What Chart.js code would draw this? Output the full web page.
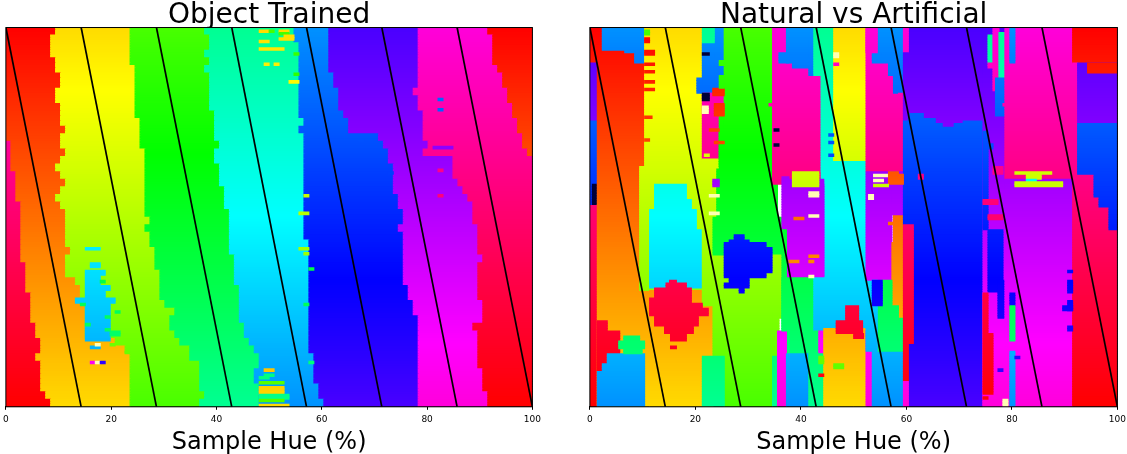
<!DOCTYPE html>
<html>
<head>
<meta charset="utf-8">
<style>
  html, body { margin: 0; background: #fff; overflow: hidden; }
  #wrap { position: relative; width: 1127px; height: 454px; overflow: hidden; }
  .box { position: absolute; top: 0; height: 454px; }
  #box1 { left: -1px; width: 546px; }
  #box2 { left: 583px; width: 547px; }
</style>
</head>
<body>
<div id="wrap">
  <div class="box" id="box1"><canvas id="chart1"></canvas></div>
  <div class="box" id="box2"><canvas id="chart2"></canvas></div>
</div>
<script src="https://cdn.jsdelivr.net/npm/chart.js@4"></script>
<script>
const panelTitles = ['Object Trained', 'Natural vs Artificial'];
const xTitle = 'Sample Hue (%)';
const xTicks = [0, 20, 40, 60, 80, 100];
const rowCount = 150;
const colCount = 106;
const blockRows = 3;
// black guide lines, sample hue % at the top and the bottom of the plot
const lineTops = [0, 14.3, 28.6, 42.9, 57.1, 71.4, 85.7];
const lineBottoms = [14.3, 28.6, 42.9, 57.1, 71.4, 85.7, 100];

// left panel: where each class ends in a row block (column number, one value per 3 rows)
const wedgeEnd = [0,0,0,0,0,0,0,0,0,0,0,0,0,0,0,1,1,1,1,2,2,2,2,3,3,3,3,3,3,3,3,4,4,4,4,5,5,5,5,6,6,7,7,6,7,7,7,7,8,9];
const class0End = [10,9,9,9,10,10,11,11,10,10,11,11,11,12,11,11,12,11,10,11,12,11,10,11,12,12,12,12,12,13,12,12,12,14,15,15,16,16,16,16,16,22,24,25,25,25,25,25,25,25];
const class1End = [25,25,25,25,25,26,26,26,26,26,26,26,27,27,27,27,28,28,28,28,28,28,28,28,28,29,28,29,29,30,30,30,31,31,31,31,32,34,33,33,34,35,37,37,39,39,39,39,40,39];
const class2End = [40,41,41,40,41,40,41,41,41,41,41,42,42,42,42,43,42,42,43,43,43,44,44,44,45,45,45,45,45,45,46,46,46,46,47,47,47,47,47,48,48,49,50,51,51,50,50,51,51,51];
const class3End = [58,58,59,59,59,59,59,59,59,59,59,59,60,59,60,60,60,60,60,60,60,60,60,60,60,60,60,60,61,61,61,61,61,61,61,61,61,61,61,61,61,61,61,62,62,62,62,63,63,64];
const class4End = [65,65,65,65,65,65,66,66,67,67,67,68,69,69,75,76,77,77,78,78,78,78,79,79,80,80,79,80,80,80,80,80,80,80,81,81,82,82,83,83,83,83,83,83,83,83,83,83,83,83];
const class5End = [83,83,83,83,83,83,83,83,82,83,83,84,84,84,84,85,84,90,90,90,91,92,93,94,94,94,95,95,95,95,96,95,95,95,95,95,96,96,96,94,95,95,95,95,95,96,96,96,97,97];
const class6End = [97,98,98,98,98,99,100,100,101,101,102,102,103,103,104,104,105,106,106,106,106,106,106,106,106,106,106,106,106,106,106,106,106,106,106,106,106,106,106,106,106,106,106,106,106,106,106,106,106,106];

// [first row, end row, first col, end col, class]; class 7 is near black, 8 is pale
const objectPatches = [
  [87,88,16,19,3],[93,95,17,19,3],[96,98,16,20,3],[98,102,16,19,3],[102,104,16,21,3],[104,107,16,20,3],
  [107,109,14,22,3],[109,124,16,21,3],[126,127,17,19,3],[100,101,19,20,2],[109,110,15,16,2],[112,113,22,23,2],
  [114,115,20,21,2],[117,118,16,17,2],[119,120,20,21,2],[120,122,21,23,2],[125,126,18,19,8],[125,126,21,22,1],
  [128,129,24,25,1],[132,133,17,18,5],[132,133,18,19,8],[132,133,19,20,4],
  [1,2,51,53,1],[1,2,53,54,2],[5,6,51,53,1],[8,9,51,56,1],[14,15,52,53,1],[14,15,54,55,1],
  [1,2,55,57,1],[2,3,55,57,2],[3,4,56,58,1],[4,5,55,58,1],[10,11,58,59,2],[18,19,58,59,2],[21,22,57,59,1],
  [28,29,87,88,4],[32,33,87,88,4],[47,48,86,90,5],[56,57,87,88,6],[66,67,87,88,6],[57,58,77,78,4],[44,45,71,72,4],
  [135,136,52,54,0],[137,138,52,54,2],[138,139,51,53,2],[140,141,51,56,1],[142,145,51,56,0],[145,147,51,57,2],
  [147,148,51,56,1],[149,150,51,57,0],
  [87,88,59,61,1],[89,90,60,61,1],[95,96,61,62,2],[132,133,61,62,2],[109,110,60,61,2],[66,67,60,61,1],[73,74,59,61,1]
];

// right panel, painted in this order with later entries on top
const naturalRegions = [
  // edge column
  [0,150,0,1.5,6],[0,14,0,1.5,0],[14,37,0,1.5,5],[37,70,0,1.5,4],[62,70,0.5,1.5,7],
  // class 0 and yellow columns
  [0,150,1.5,12,0],[0,9,0,2.5,0],[0,9,2.5,11,4],[9,10,7,11,4],[10,14,9,11,4],
  [0,104,11,22.6,1],[55,104,10,11,1],[104,150,12,24.75,0],
  [62,68,13,19.4,3],[68,72,13,20.4,3],[72,80,12,21.4,3],[80,103,12,22.6,3],
  [62,110,22.6,27,1],
  // middle noise column
  [0,26,24.7,27,4],[6,26,22.6,25,4],[0,6,22.6,25,3],[26,52,22.6,26,6],[26,35,24,27,6],[52,67,22.6,26,1],[35,55,26,27,2],
  // green then lime
  [0,40,27,36.7,2],[40,56,26,36.7,2],[56,75,25.5,37.7,2],[75,90,24.75,38.6,2],
  [90,150,27,36.7,1],[90,115,36.7,38.6,1],[110,130,24.75,27,1],[130,150,22.6,27,2],[115,130,36.7,38,1],[130,150,36.7,37.7,2],
  // blue blob in the lime
  [82,84,29,31,4],[84,85,28,32,4],[85,87,27,35.4,4],[87,97,27,36.6,4],[97,99,27,35.4,4],[99,101,28,32,4],[101,103,27,32,4],[103,105,30,31,4],
  // red blob
  [100,101,16,17.4,6],[101,103,15.3,19.4,6],[103,107,13,20.4,6],[107,109,12,20.4,6],[109,111,12,22.6,6],[111,114,12,23.8,6],
  [114,118,13,21.8,6],[118,121,15,20.8,6],[121,124,16.2,19.4,6],[126,127,16.2,17.4,6],
  // lower left corner
  [116,120,1.5,3.5,6],[120,123,1.5,6,6],[123,129,1.5,6,6],[129,133,1.5,3.5,6],[133,136,1.5,2.5,6],
  [129,133,3.5,11,3],[133,136,2.5,11,3],[136,150,1.5,11,3],
  [122,124,6.8,10,2],[124,127,5.8,11,2],[127,129,6.8,10.5,2],
  // pink, purple, green columns
  [0,62,36.7,47,6],[0,14,39.5,44,4],[14,16,40.7,44,4],[0,19,44,45,4],[0,19,45,46.5,3],[0,57,46.5,49,3],
  [19,60,46.5,47.5,3],
  [0,53,49,55.5,1],[50,56,49,53.8,1],[53,110,47,56.75,3],
  [59,80,38.6,40,5],[60,99,39.5,47,5],[62,99,38.8,47,5],[80,100,38.6,39.5,2],[57,63,40.7,46,1],
  [99,129,38.6,45,2],[99,120,45,56.75,3],[120,129,45,46,2],[120,129,46,47,5],[120,150,37.7,39.5,5],[129,150,39.5,44,3],[129,150,44,47,2],
  [100,120,38.6,39.5,2],
  [119,150,47,55.5,0],[110,116,51.4,54,6],[116,121,49.5,54.8,6],[121,123,53,55,6],
  [120,150,55.5,56.75,5],[110,128,55.5,56.75,3],[128,150,56.75,63,3],
  // around sample 58
  [0,14,55.5,63,6],[14,57,55.5,63,6],[0,14,56.75,63,4],[9,13,58.75,63,4],[0,9,57.75,63,4],[13,19,60,63,4],[19,26,61,63,4],[26,33,62,63,6],
  [0,10,55.5,57.75,6],[57,64,55.5,63,5],[64,100,55.5,60.7,5],[74,85,61,64,0],[85,110,60.7,64,0],[110,115,61.5,64.07,0],
  [64,74,60.7,63,5],[100,103,58.75,60.7,2],[103,110,57.75,60.7,2],[110,115,57.75,62,2],[115,128,57.75,63,2],[100,128,56.75,57.75,3],
  [100,110,56.75,58.75,4],
  // long blue and violet
  [0,38,64,80,5],[0,10,63,64,6],[10,37,63,64,5],[37,78,63,64,4],[34,38,64,67,4],[36,38,64,69.4,4],[37,38,75,79,4],
  [38,150,64,79,4],[38,39,71,73,5],[78,125,63,65,6],[125,140,63,64,6],[140,150,63,64,5],
  // noisy column near 80
  [0,150,79,83.4,5],[3,14,80,81,3],[0,25,81,82.2,6],[2,20,82.2,83.4,3],[20,35,81.5,83.4,4],[22,26,82.2,83.4,4],[41,80,79,80,4],
  [80,105,80,83,4],[105,150,79,84.4,5],[121,145,79,81,6],[105,121,79,80,6],[100,115,82,84,4],
  // pink and violet on the right
  [0,60,83.4,97,6],[60,150,83.4,97,5],[0,14,84.4,85.4,4],[105,110,84.4,85.4,4],[110,124,84.4,85.4,2],[128,150,84.4,85.4,3],
  [57,58,85.4,92.8,1],[58,60,87.7,90.7,1],[60,61,87.7,89.7,3],[61,63,85.4,95,1],
  [38,150,97,106,6],[0,14,97,106,0],[14,38,97,98,6],[14,38,98,106,5],[14,18,100,106,0],
  [38,58,98,106,4],[58,67,101.3,106,4],[67,71,102.3,106,4],[71,80,104.3,106,4],
  // single cells
  [1,3,11,12,2],[4,6,11,12,0],[9,11,11,13,0],[14,15,11,13,0],[17,18,11,13,0],[21,22,11,13,0],[24,25,11,13,0],[35,36,11,12.5,0],[44,45,11,12,0],
  [20,26,21.5,22.6,4],[31,34,22.6,23.8,8],[26,29,22.6,24,7],[10,11,22.6,24,7],[24,27,24.7,27,0],[30,35,25,27,0],[13,15,26,27,2],[19,24,26,27,2],
  [40,41,24,26,0],[45,46,25,27,0],[50,51,23,24,1],[60,63,24.7,26,5],[66,67,24,26,8],[73,74,24,26,8],
  [10,14,38,40,4],[40,41,37,38,7],[46,47,37,38,7],[30,31,36,38,6],[45,46,48,49,4],[42,43,48,49,4],[50,51,48,49,4],
  [10,12,49,50,8],[14,15,49,50,6],[65,67,44,46,8],[74,75,44,46,8],[75,76,41,43,0],[92,93,40,42,0],[92,93,44,45,0],
  [98,99,44,45,8],[90,91,44,46,0],[14,16,80,81,6],[30,31,83,84,6],[46,48,80,81,4],[55,58,81,83,6],[68,70,79,82,6],[74,76,80,83,6],
  [60,61,57,59,8],[58,59,57,60,8],[57,58,60,62,0],[58,62,60,63,0],[62,63,57,60,1],[66,68,56,57,8],[77,78,60,62,0],
  [96,97,96,97,4],[100,105,96,97,4],[108,112,96,97,4],[118,120,96,97,4],[110,112,95,97,4],[58,60,66,67,6],
  [130,131,85.4,86.4,4],[135,136,82,83,4],[146,147,79,80,6],[147,150,83,84,8],[133,135,49,51,1],[130,133,46,47,1],[137,138,46,47,6]
];

const cellWidth = 100 / colCount;

function cell(row, c0, c1, k) {
  return { y: row, x: [c0 * cellWidth, c1 * cellWidth], k: k };
}

function bandCells() {
  const starts = [wedgeEnd, class0End, class1End, class2End, class3End, class4End, class5End, class6End];
  const classes = [0, 1, 2, 3, 4, 5, 6, 0];
  const out = [];
  for (let r = 0; r < rowCount; r++) {
    const b = Math.floor(r / blockRows);
    if (wedgeEnd[b] > 0) out.push(cell(r, 0, wedgeEnd[b], 6));
    classes.forEach((k, i) => {
      const end = i + 1 < starts.length ? starts[i + 1][b] : colCount;
      if (end > starts[i][b]) out.push(cell(r, starts[i][b], end, k));
    });
  }
  return out;
}

function patchCells(list) {
  const out = [];
  list.forEach(([r0, r1, c0, c1, k]) => {
    for (let r = r0; r < r1; r++) out.push(cell(r, c0, c1, k));
  });
  return out;
}

// predicted class plus row gives the hue of the cell
function cellColor(ctx) {
  const p = ctx.raw;
  if (!p) return '#000';
  if (p.k === 7) return '#00003a';
  if (p.k === 8) return '#ffffb4';
  const hue = (p.k + (p.y + 0.5) / rowCount) * 360 / 7;
  return `hsl(${hue}, 100%, 50%)`;
}

const frame = {
  id: 'frame',
  afterDatasetsDraw(chart) {
    const { ctx, chartArea: a } = chart;
    ctx.save();
    ctx.strokeStyle = '#000';
    ctx.lineWidth = 1;
    ctx.strokeRect(a.left, a.top, a.right - a.left, a.bottom - a.top);
    ctx.restore();
  }
};

function makeChart(id, title, cells) {
  const lines = lineTops.map((top, i) => ({
    type: 'line',
    indexAxis: 'x',
    xAxisID: 'x',
    yAxisID: 'lineY',
    data: [{ x: top, y: 0 }, { x: lineBottoms[i], y: rowCount }],
    borderColor: '#000',
    borderWidth: 1.7,
    pointRadius: 0,
    order: 0
  }));
  return new Chart(document.getElementById(id), {
    type: 'bar',
    data: {
      labels: [...Array(rowCount).keys()],
      datasets: [...lines, {
        type: 'bar',
        indexAxis: 'y',
        xAxisID: 'x',
        yAxisID: 'y',
        data: cells,
        backgroundColor: cellColor,
        borderWidth: 0,
        inflateAmount: 0.5,
        grouped: false,
        barPercentage: 1,
        categoryPercentage: 1,
        order: 1
      }]
    },
    options: {
      indexAxis: 'y',
      responsive: true,
      maintainAspectRatio: false,
      animation: false,
      layout: { padding: { left: 0.3, right: 0, top: 0, bottom: 0 } },
      plugins: {
        legend: { display: false },
        tooltip: { enabled: false },
        title: {
          display: true,
          fullSize: false,
          text: title,
          color: '#000',
          padding: { top: 4, bottom: 0 },
          font: { family: 'DejaVu Sans', size: 28, weight: 'normal', lineHeight: 0.84 }
        }
      },
      scales: {
        x: {
          type: 'linear',
          min: 0,
          max: 100,
          afterBuildTicks(axis) { axis.ticks = xTicks.map((v) => ({ value: v })); },
          grid: { drawOnChartArea: false, tickLength: 3, tickColor: '#000' },
          border: { color: '#000' },
          ticks: { color: '#000', padding: 4, maxRotation: 0, font: { family: 'DejaVu Sans', size: 9 } },
          title: {
            display: true,
            text: xTitle,
            color: '#000',
            padding: { top: 1, bottom: -2 },
            font: { family: 'DejaVu Sans', size: 24, lineHeight: 1.1 }
          }
        },
        y: { type: 'category', display: false },
        lineY: { type: 'linear', display: false, offset: false, min: 0, max: rowCount, reverse: true }
      }
    },
    plugins: [frame]
  });
}

makeChart('chart1', panelTitles[0], [...bandCells(), ...patchCells(objectPatches)]);
makeChart('chart2', panelTitles[1], patchCells(naturalRegions));
</script>
</body>
</html>
